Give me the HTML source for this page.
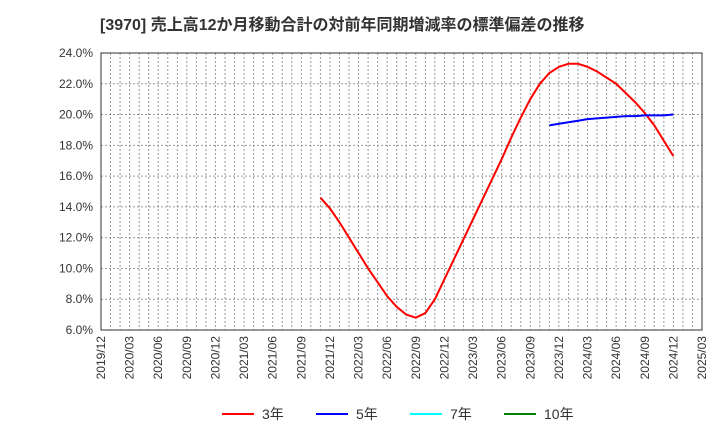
<!DOCTYPE html>
<html><head><meta charset="utf-8">
<style>
body{margin:0;background:#fff;font-family:"Liberation Sans","Noto Sans CJK JP",sans-serif;}
svg text{font-family:"Liberation Sans","Noto Sans CJK JP",sans-serif;}
</style></head>
<body>
<svg id="chart" width="720" height="440" xmlns="http://www.w3.org/2000/svg">
<text x="100" y="30" font-size="16" font-weight="bold" fill="#333">[3970]  売上高12か月移動合計の対前年同期増減率の標準偏差の推移</text>
<g id="grid"></g>
<g id="axes"></g>
<g id="series"></g>
<g id="legend"></g>
</svg>
<script>
const yTicks=[6,8,10,12,14,16,18,20,22,24];
const xLabels=["2019/12","2020/03","2020/06","2020/09","2020/12","2021/03","2021/06","2021/09","2021/12","2022/03","2022/06","2022/09","2022/12","2023/03","2023/06","2023/09","2023/12","2024/03","2024/06","2024/09","2024/12","2025/03"];
const s3Start=23;
const s3=[14.6,13.9,13.0,12.0,11.0,10.0,9.1,8.2,7.5,7.0,6.8,7.1,8.0,9.3,10.6,11.9,13.2,14.5,15.8,17.1,18.5,19.8,21.0,22.0,22.7,23.1,23.3,23.3,23.1,22.8,22.4,22.0,21.4,20.8,20.1,19.3,18.3,17.3];
const s5Start=47;
const s5=[19.3,19.4,19.5,19.6,19.7,19.75,19.8,19.85,19.9,19.9,19.95,19.95,19.95,20.0];
const L=101,R=702,T=53,B=330,months=63;
const x=m=>L+(R-L)*m/months;
const y=v=>B-(B-T)*(v-6)/18;
const NS="http://www.w3.org/2000/svg";
function mk(tag,attrs,parent){const e=document.createElementNS(NS,tag);for(const k in attrs)e.setAttribute(k,attrs[k]);document.getElementById(parent).appendChild(e);return e;}
for(let m=1;m<months;m++){
 const l=mk('line',{x1:x(m),x2:x(m),y1:T,y2:B,stroke:'#999','stroke-dasharray':'2,2','stroke-width':1},'grid');
 
 
}
yTicks.forEach(v=>{
 if(v>6&&v<24){const l=mk('line',{x1:L,x2:R,y1:y(v),y2:y(v),stroke:'#999','stroke-dasharray':'2,2'},'grid');
 
 }
 const t=mk('text',{x:L-8,y:y(v)+4,'font-size':12,fill:'#333','text-anchor':'end'},'axes');
 t.textContent=v.toFixed(1)+'%';
 
 
});
xLabels.forEach((s,i)=>{
 const xx=x(i*3);
 const t=mk('text',{x:xx+4,y:B+6,'font-size':12,fill:'#333','text-anchor':'end',transform:`rotate(-90 ${xx+4} ${B+6})`},'axes');
 t.textContent=s;
 
 
});
const fr=mk('rect',{x:L,y:T,width:R-L,height:B-T,fill:'none',stroke:'#333'},'axes');


function line(data,start,color,name){
 const p=mk('polyline',{points:data.map((v,i)=>x(start+i)+','+y(v)).join(' '),fill:'none',stroke:color,'stroke-width':2},'series');
 
 
}
line(s3,s3Start,'#ff0000','series-3-year');
line(s5,s5Start,'#0000ff','series-5-year');
const leg=[['3年','#ff0000',222],['5年','#0000ff',316],['7年','#00ffff',410],['10年','#008000',504]];
leg.forEach(([n,c,lx])=>{
 const l=mk('line',{x1:lx,x2:lx+32,y1:414,y2:414,stroke:c,'stroke-width':2},'legend');
 
 
 const t=mk('text',{x:lx+40,y:419,'font-size':14,fill:'#333'},'legend');
 t.textContent=n;
 
 
});
</script>
</body></html>
